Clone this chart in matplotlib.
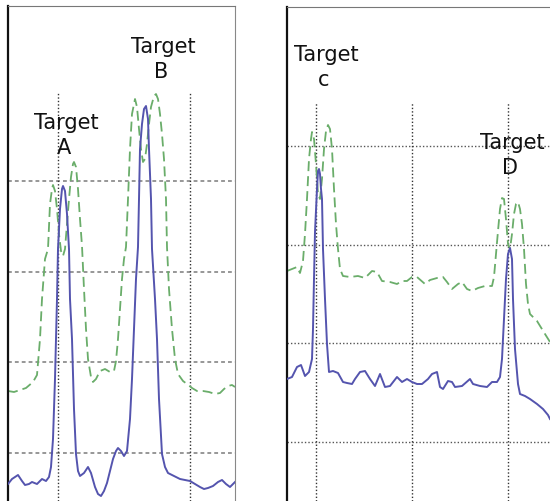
import numpy as np
import matplotlib
matplotlib.use("Agg")
import matplotlib.pyplot as plt

# ---- data (x = sample position, y = signal level) ----
left_blue_x = [8, 12, 18, 22, 25, 29, 32, 37, 42, 46, 49, 51, 53, 55, 57, 58, 60, 62, 63, 65,
               67, 69, 70, 72, 74, 76, 78, 80, 84, 88, 91, 95, 98, 101, 104, 107, 110, 113, 116, 118,
               121, 124, 127, 130, 132, 134, 136, 138, 139, 140, 142, 144, 146, 148, 149, 151, 152, 155, 157, 159,
               162, 165, 168, 172, 176, 180, 185, 190, 195, 200, 204, 208, 213, 218, 222, 226, 230, 233, 235]
left_blue_y = [17, 22, 26, 20, 16, 17, 19, 17, 22, 20, 24, 34, 62, 122, 202, 252, 292, 312, 315, 310,
               287, 252, 202, 162, 92, 47, 30, 25, 28, 34, 28, 14, 7, 5, 10, 18, 30, 42, 50, 53,
               50, 45, 50, 82, 122, 172, 222, 254, 302, 352, 377, 392, 395, 382, 352, 302, 252, 202, 162, 102,
               47, 34, 28, 26, 24, 22, 21, 20, 17, 14, 12, 13, 15, 19, 21, 17, 14, 17, 19]

left_green_x = [8, 14, 20, 26, 33, 37, 40, 42, 45, 48, 50, 52, 53, 55, 57, 59, 61, 63, 65, 67,
                69, 71, 73, 74, 76, 78, 80, 82, 84, 86, 88, 91, 93, 96, 100, 105, 110, 114, 116, 118,
                120, 122, 124, 126, 128, 130, 132, 135, 137, 139, 141, 143, 145, 147, 149, 151, 154, 156, 158, 160,
                162, 164, 166, 167, 169, 172, 175, 178, 183, 187, 192, 197, 203, 209, 215, 220, 224, 228, 232, 235]
left_green_y = [110, 109, 111, 113, 119, 126, 162, 202, 242, 252, 297, 312, 316, 310, 292, 267, 250, 245, 252, 277,
                302, 324, 337, 339, 334, 312, 282, 255, 212, 172, 142, 124, 119, 122, 130, 132, 129, 130, 140, 162,
                192, 222, 242, 254, 302, 352, 387, 402, 394, 372, 352, 339, 342, 357, 377, 394, 405, 407, 402, 387,
                367, 342, 302, 254, 212, 172, 142, 127, 120, 117, 113, 110, 110, 109, 107, 108, 112, 115, 116, 114]

right_blue_x = [287, 292, 297, 301, 305, 309, 312, 313, 314, 315, 317, 318, 319, 320, 321, 322, 323, 325, 327, 329,
                333, 338, 343, 347, 352, 355, 360, 365, 370, 375, 380, 385, 390, 397, 402, 407, 412, 417, 422, 428,
                432, 437, 440, 443, 448, 452, 455, 462, 470, 473, 480, 487, 492, 497, 500, 502, 504, 506, 508, 510,
                512, 513, 515, 518, 520, 525, 530, 537, 543, 548, 550]
right_blue_y = [122, 124, 134, 136, 125, 129, 142, 172, 222, 269, 312, 330, 332, 327, 312, 302, 252, 202, 157, 129,
                130, 128, 119, 118, 117, 122, 129, 130, 122, 115, 127, 114, 115, 124, 119, 122, 119, 117, 117, 122,
                127, 129, 114, 112, 120, 119, 114, 115, 122, 117, 115, 114, 119, 119, 124, 142, 182, 222, 247, 253,
                242, 202, 152, 117, 107, 105, 102, 97, 92, 86, 82]

right_green_x = [287, 292, 297, 300, 303, 305, 307, 309, 311, 312, 314, 316, 318, 320, 322, 324, 326, 328, 330, 332,
                 334, 336, 338, 340, 343, 350, 358, 365, 372, 377, 382, 390, 397, 402, 407, 412, 417, 425, 430, 437,
                 443, 447, 452, 458, 462, 467, 472, 478, 485, 492, 494, 496, 498, 500, 502, 504, 506, 508, 510, 512,
                 514, 516, 518, 520, 522, 524, 526, 528, 530, 537, 545, 550]
right_green_y = [230, 232, 234, 228, 240, 267, 302, 342, 362, 369, 362, 337, 307, 302, 322, 352, 370, 376, 372, 352,
                 312, 277, 252, 232, 225, 224, 225, 223, 230, 229, 220, 219, 217, 220, 220, 224, 224, 217, 221, 223,
                 224, 219, 212, 217, 219, 212, 210, 213, 215, 215, 224, 247, 270, 292, 303, 302, 282, 257, 252, 267,
                 287, 297, 299, 292, 277, 252, 217, 197, 187, 180, 167, 159]

left_hgrid = [48, 139, 229, 320]
left_vgrid = [58, 190]
left_vgrid_top = 409
right_hgrid = [59, 158, 256, 355]
right_vgrid = [316, 412, 508]
right_vgrid_top = 399

labels = ["A", "B", "c", "D"]
label_x = [66, 163, 326, 512]
label_y = [379, 455, 447, 359]   # level of the "Target" line

BLUE = "#5454ae"
GREEN = "#6aad6a"

fig = plt.figure(figsize=(5.5, 5.02), dpi=100)
W, H = 550.0, 502.0
ax_l = fig.add_axes([8 / W, 0, (235 - 8) / W, (H - 7) / H])
ax_r = fig.add_axes([287 / W, 0, (550 - 287) / W + 0.01, (H - 8) / H])

ax_l.set_xlim(8, 235)
ax_l.set_ylim(0, 495)
ax_r.set_xlim(287, 550 + 0.01 * W)
ax_r.set_ylim(0, 494)

for ax in (ax_l, ax_r):
    ax.set_xticks([])
    ax.set_yticks([])
    ax.spines["bottom"].set_visible(False)
    ax.spines["left"].set_linewidth(1.6)
    ax.spines["left"].set_color("#111111")
    ax.spines["top"].set_linewidth(0.8)
    ax.spines["top"].set_color("#777777")
ax_l.spines["right"].set_linewidth(0.8)
ax_l.spines["right"].set_color("#888888")
ax_r.spines["right"].set_visible(False)

# grids
for y in left_hgrid:
    ax_l.axhline(y, color="#7a7a7a", lw=1.1, ls=(0, (2.5, 2)), zorder=1)
for x in left_vgrid:
    ax_l.plot([x, x], [0, left_vgrid_top], color="#333333", lw=1.0, ls=(0, (1, 1.5)), zorder=1)
for y in right_hgrid:
    ax_r.axhline(y, color="#555555", lw=1.0, ls=(0, (1, 1.5)), zorder=1)
for x in right_vgrid:
    ax_r.plot([x, x], [0, right_vgrid_top], color="#333333", lw=1.0, ls=(0, (1, 1.5)), zorder=1)

# signals
ax_l.plot(left_green_x, left_green_y, color=GREEN, lw=1.3, ls=(0, (5.5, 2.8)), zorder=2)
ax_l.plot(left_blue_x, left_blue_y, color=BLUE, lw=1.4, zorder=3)
ax_r.plot(right_green_x, right_green_y, color=GREEN, lw=1.3, ls=(0, (5.5, 2.8)), zorder=2)
ax_r.plot(right_blue_x, right_blue_y, color=BLUE, lw=1.4, zorder=3)

# labels
for i, lab in enumerate(labels):
    ax = ax_l if i < 2 else ax_r
    ax.text(label_x[i], label_y[i], "Target", ha="center", va="center",
            fontsize=15, color="#111111", zorder=5)
    ax.text(label_x[i] - 2, label_y[i] - 25, lab, ha="center", va="center",
            fontsize=15, color="#111111", zorder=5)

fig.savefig("out.png", dpi=100)
